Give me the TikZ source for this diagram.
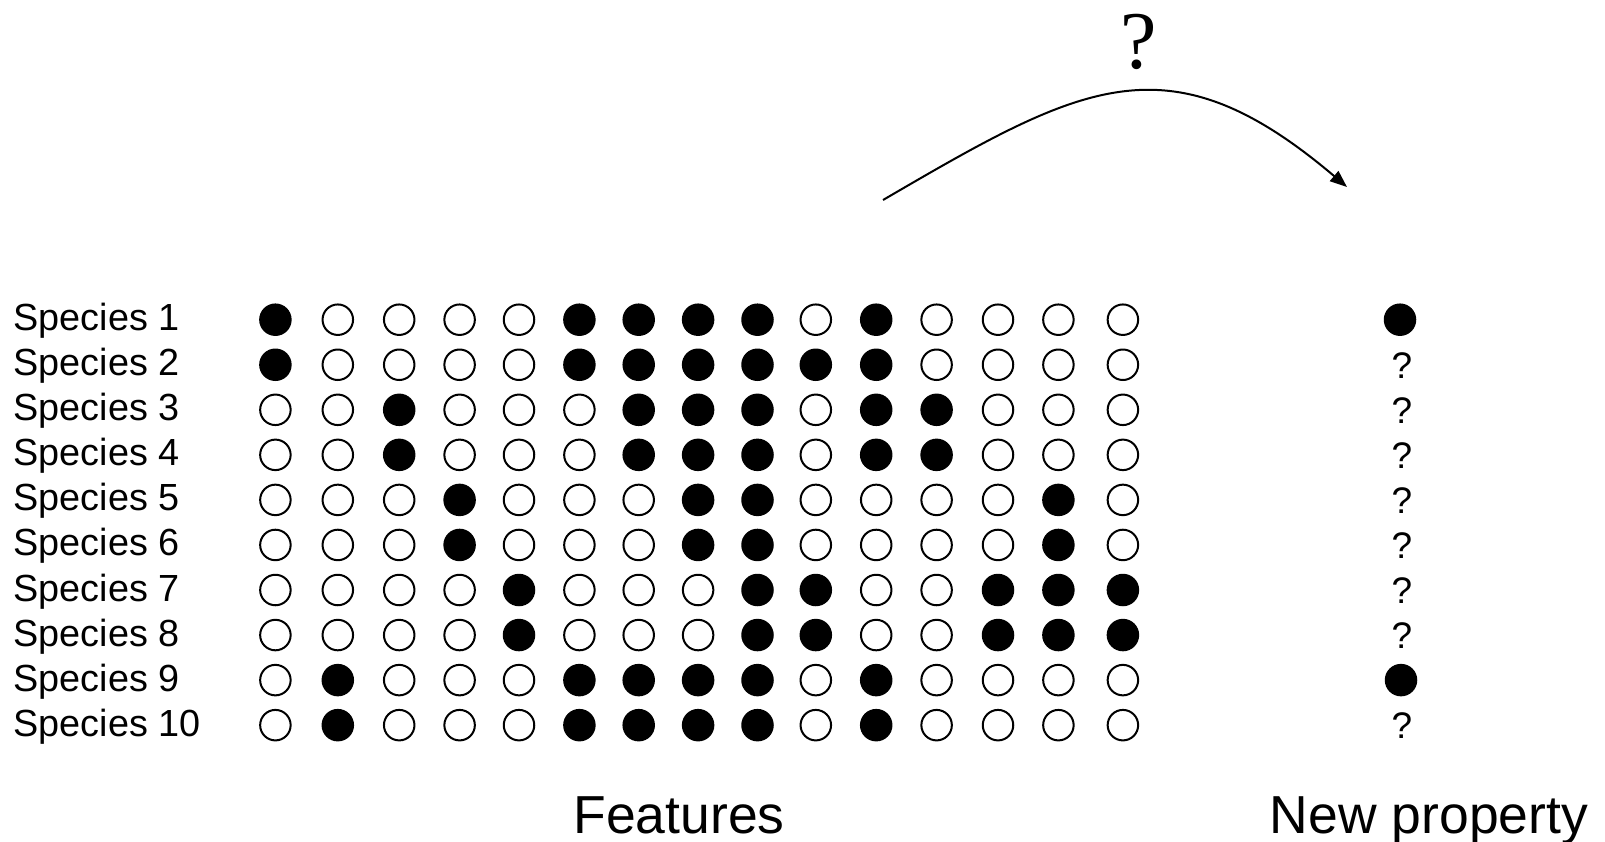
\documentclass[tikz,border=0pt]{standalone}
\usepackage{fontspec}
\setmainfont{Liberation Sans}
\newfontfamily\serifq{Liberation Serif}
\usetikzlibrary{arrows.meta}

\begin{document}
\begin{tikzpicture}[x=1pt,y=-1pt,
  cell0/.style={circle,draw=black,line width=2pt,fill=white,minimum size=30.5pt,inner sep=0pt},
  cell1/.style={cell0,fill=black},
  rowlabel/.style={anchor=base west,inner sep=0pt,font=\fontsize{37.8}{44}\selectfont},
  unknown/.style={anchor=base,inner sep=0pt,font=\fontsize{37}{44}\selectfont},
  axistitle/.style={anchor=base,inner sep=0pt,font=\fontsize{53.5}{64}\selectfont},
  arrowline/.style={line width=2pt,-{Triangle[length=17pt,width=13pt]}}
]
\useasboundingbox (0,0) rectangle (1605,841);

% feature matrix: one list per species, 1 = feature present
\foreach \rowvals [count=\r] in {
  {1,0,0,0,0,1,1,1,1,0,1,0,0,0,0},
  {1,0,0,0,0,1,1,1,1,1,1,0,0,0,0},
  {0,0,1,0,0,0,1,1,1,0,1,1,0,0,0},
  {0,0,1,0,0,0,1,1,1,0,1,1,0,0,0},
  {0,0,0,1,0,0,0,1,1,0,0,0,0,1,0},
  {0,0,0,1,0,0,0,1,1,0,0,0,0,1,0},
  {0,0,0,0,1,0,0,0,1,1,0,0,1,1,1},
  {0,0,0,0,1,0,0,0,1,1,0,0,1,1,1},
  {0,1,0,0,0,1,1,1,1,0,1,0,0,0,0},
  {0,1,0,0,0,1,1,1,1,0,1,0,0,0,0}} {
  \pgfmathsetmacro\yy{319.7+45.05*(\r-1)}
  \node[rowlabel] (sp-\r) at (13.5,\yy+11) {Species \r};
  \foreach \v [count=\c] in \rowvals {
    \pgfmathsetmacro\xx{{275.4,337.8,399.2,459.6,519.0,579.4,638.7,698.1,757.5,815.8,876.2,936.6,998.0,1058.4,1122.9}[\c-1]}
    \node[cell\v] (c-\r-\c) at (\xx,\yy) {};
  }
}

% new property column
\node[cell1] (np-1) at (1400,319.7) {};
\foreach \r in {2,3,4,5,6,7,8,10} {
  \pgfmathsetmacro\yy{319.7+45.05*(\r-1)}
  \node[unknown] (np-\r) at (1402,\yy+13.5) {?};
}
\node[cell1] (np-9) at (1401,680.1) {};

% axis titles
\node[axistitle] (features) at (679,833) {Features};
\node[axistitle] (newprop) at (1429,833) {New property};

% generalisation arrow
\coordinate (arrowstart) at (883,200);
\coordinate (arrowend) at (1347,187);
\draw[arrowline] (arrowstart) .. controls (1082,84) and (1168,35) .. (arrowend);
\node[anchor=base,inner sep=0pt,font=\serifq\fontsize{82}{96}\selectfont] (query) at (1139,68) {?};
\end{tikzpicture}
\end{document}
